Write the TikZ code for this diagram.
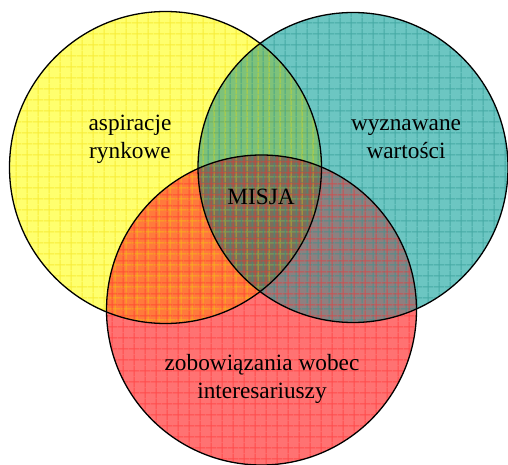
\documentclass[tikz,border=0pt]{standalone}
\usepackage{fontspec}
\setmainfont{Liberation Serif}
\usepackage{tikz}
\usetikzlibrary{positioning,patterns.meta}

\definecolor{yelbase}{HTML}{FFFF6E}
\definecolor{yelline}{HTML}{F0DC00}
\definecolor{tealbase}{HTML}{6CC6C2}
\definecolor{tealline}{HTML}{2A9690}
\definecolor{redbase}{HTML}{FF7272}
\definecolor{redline}{HTML}{FF2A2A}
\definecolor{yeltealmix}{HTML}{7EC27A}
\definecolor{yelredmix}{HTML}{FF7A3C}
\definecolor{tealredmix}{HTML}{8E8080}
\definecolor{allmix}{HTML}{7C6E5A}

\tikzdeclarepattern{
  name=gridtile,
  type=uncolored,
  bounding box={(0pt,0pt) and (10.7pt,10.7pt)},
  tile size={(10.7pt,10.7pt)},
  code={
    \draw[line width=1pt] (0pt,5.35pt) -- (10.7pt,5.35pt);
    \draw[line width=1pt] (5.35pt,0pt) -- (5.35pt,10.7pt);
  }
}

\begin{document}
\begin{tikzpicture}[x=1pt, y=1pt, every node/.style={align=center, font=\fontsize{23.3}{28}\selectfont}]
\useasboundingbox (0,0) rectangle (508,464);
\coordinate (aspc) at (165.5,296.5);
\coordinate (wartc) at (353,296.5);
\coordinate (zobc) at (261.5,154);
% base fills
\fill[yelbase] (aspc) circle (156);
\fill[tealbase] (wartc) circle (155);
\fill[redbase] (zobc) circle (155);
% overlaps
\begin{scope}
\clip (aspc) circle (156);
\fill[yeltealmix] (wartc) circle (155);
\fill[yelredmix] (zobc) circle (155);
\end{scope}
\begin{scope}
\clip (wartc) circle (155);
\fill[tealredmix] (zobc) circle (155);
\clip (zobc) circle (155);
\fill[allmix] (aspc) circle (156);
\end{scope}
% grid
\fill[pattern=gridtile, pattern color=yelline, fill opacity=0.5] (aspc) circle (156);
\fill[pattern=gridtile, pattern color=tealline, fill opacity=0.6] (wartc) circle (155);
\fill[pattern=gridtile, pattern color=redline, fill opacity=0.55] (zobc) circle (155);
% outlines
\draw[line width=1.3pt] (aspc) circle (156);
\draw[line width=1.3pt] (wartc) circle (155);
\draw[line width=1.3pt] (zobc) circle (155);
\node (asp) at (130,325) {aspiracje\\rynkowe};
\node (wart) at (406,325) {wyznawane\\wartości};
\node (misja) at (261,267) {MISJA};
\node (zob) at (262,85) {zobowiązania wobec\\interesariuszy};
\end{tikzpicture}
\end{document}
